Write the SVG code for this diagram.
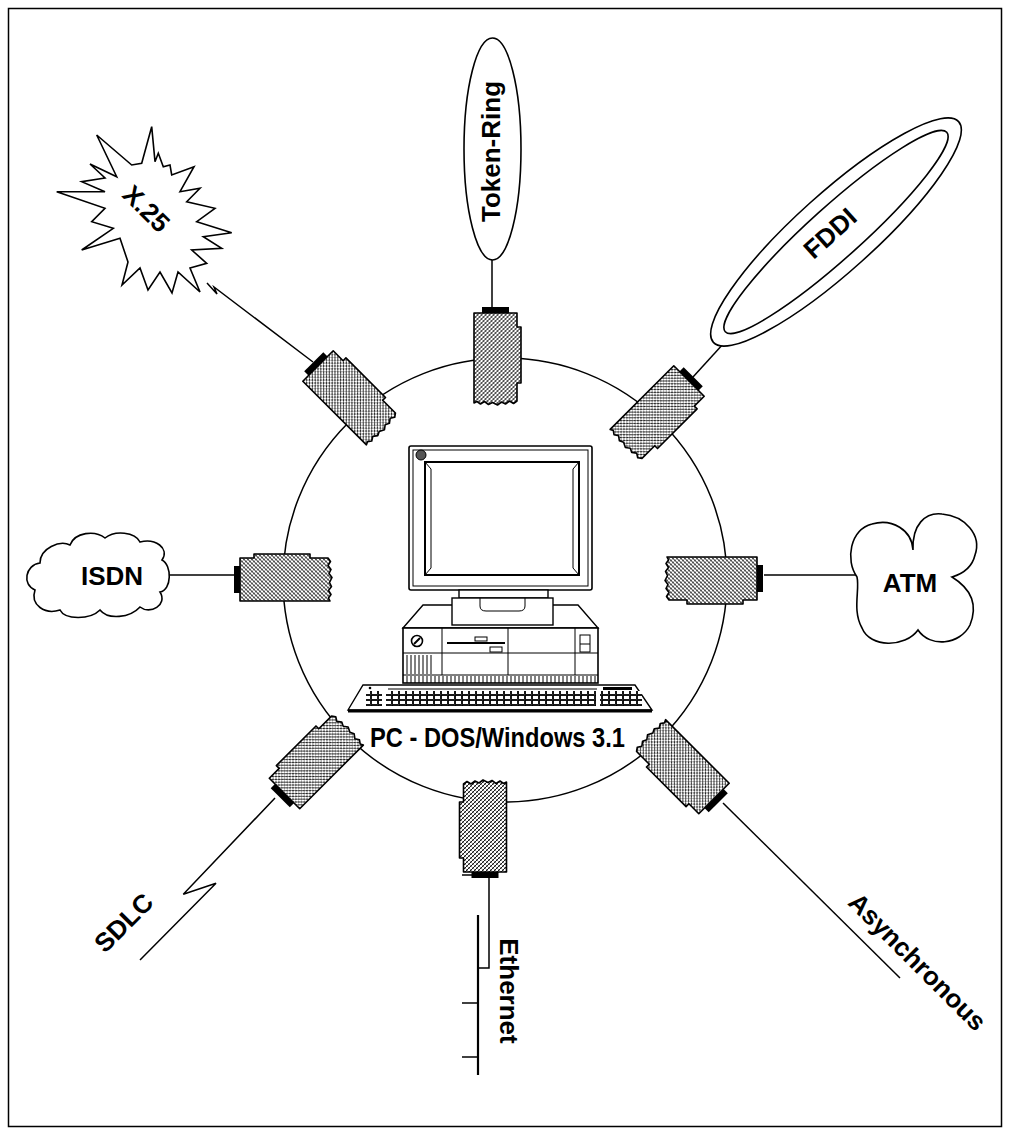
<svg xmlns="http://www.w3.org/2000/svg" width="1010" height="1135" viewBox="0 0 1010 1135">
  <style>
    .ln { fill: none; stroke: #000; stroke-width: 1.5; }
    .thin { fill: none; stroke: #000; stroke-width: 1; }
    .lbl { font-family: "Liberation Sans", Arial, sans-serif; font-weight: bold; font-size: 26px; fill: #000; }
    .shape { fill: #fff; stroke: #000; stroke-width: 1.6; }
  </style>
  <defs>
    <!-- cross-hatched fill for the adapter cards -->
    <pattern id="hatch" width="4" height="4" patternUnits="userSpaceOnUse">
      <rect width="4" height="4" fill="#fff"/>
      <path d="M-1,1 L1,-1 M0,4 L4,0 M3,5 L5,3" stroke="#000" stroke-width="0.9"/>
      <path d="M0,0 L4,4" stroke="#000" stroke-width="0.45"/>
    </pattern>
    <pattern id="keys" width="7" height="5" patternUnits="userSpaceOnUse">
      <rect width="7" height="5" fill="#fff"/>
      <rect x="0.5" y="0.5" width="6" height="4" fill="none" stroke="#000" stroke-width="0.9"/>
    </pattern>
    <!-- adapter card: origin at centre of the connector end, card runs along +y -->
    <g id="card">
      <rect x="-13.5" y="-6" width="27" height="6" fill="#000"/>
      <path d="M-21.5,0 H21.5 V14 H25.5 V70 H21.5 V88 L18,90.5 L14,88 L10,91 L6,89 L2,92 L-3,89.5 L-7,91.5 L-11,88.5 L-15,91 L-18.5,88.5 L-21.5,90 Z" fill="url(#hatch)" stroke="#000" stroke-width="1.6" stroke-linejoin="round"/>
    </g>
  </defs>

  <rect x="8.5" y="8.5" width="993" height="1118" fill="#fff" stroke="#000" stroke-width="1.5"/>

  <!-- ring joining the adapters -->
  <g id="ring">
    <circle cx="505" cy="580" r="222" class="ln"/>
  </g>

  <!-- connectors from adapters to networks -->
  <g id="connectors">
    <line x1="492" y1="260" x2="492" y2="307" class="ln"/>
    <line x1="168" y1="575" x2="236" y2="575" class="ln"/>
    <line x1="764" y1="575" x2="857" y2="575" class="ln"/>
    <polyline points="313,362 214,287 217,294 207,283" class="ln"/>
    <line x1="693" y1="377" x2="724" y2="343" class="ln"/>
    <polyline points="275,798 183.3,894.3 216,883.3 140,960" class="ln"/>
    <line x1="723" y1="803" x2="900" y2="978" class="ln"/>
    <polyline points="489,877 489,968 478,968" class="ln"/>
    <line x1="462" y1="875" x2="474" y2="875" class="ln"/>
    <line x1="478" y1="915" x2="478" y2="1075" fill="none" stroke="#000" stroke-width="2.2"/>
    <line x1="462" y1="1003" x2="478" y2="1003" class="ln"/>
    <line x1="462" y1="1057" x2="478" y2="1057" class="ln"/>
  </g>

  <!-- adapter cards around the ring -->
  <g id="adapter-token-ring"><use href="#card" transform="translate(495.5,313)"/></g>
  <g id="adapter-fddi"><use href="#card" transform="translate(689,381) rotate(45)"/></g>
  <g id="adapter-atm"><use href="#card" transform="translate(757,578.5) rotate(90)"/></g>
  <g id="adapter-async"><use href="#card" transform="translate(714,798.5) rotate(135)"/></g>
  <g id="adapter-ethernet"><use href="#card" transform="translate(485,872) rotate(180)"/></g>
  <g id="adapter-sdlc"><use href="#card" transform="translate(284.5,793.5) rotate(225)"/></g>
  <g id="adapter-isdn"><use href="#card" transform="translate(240,579.5) rotate(270)"/></g>
  <g id="adapter-x25"><use href="#card" transform="translate(318,366) rotate(315)"/></g>

  <!-- Token-Ring -->
  <g id="token-ring">
    <ellipse cx="492.5" cy="149" rx="28.5" ry="111" class="shape"/>
    <text class="lbl" text-anchor="middle" transform="translate(500,151.5) rotate(-90)">Token-Ring</text>
  </g>

  <!-- FDDI dual ring -->
  <g id="fddi">
    <g transform="rotate(-42 836 232)">
      <ellipse cx="836" cy="232" rx="165" ry="39" class="shape"/>
      <ellipse cx="836" cy="232" rx="149" ry="26" class="shape"/>
    </g>
    <text class="lbl" text-anchor="middle" transform="translate(836,240) rotate(-42)">FDDI</text>
  </g>

  <!-- X.25 -->
  <g id="x25">
    <polygon class="shape" points="151.7,126.7 155,161.7 158.3,153.3 163.3,166.7 170,165 171.7,175 194,166.7 180,191.7 200,188.3 186.7,201.7 215,208.3 196.7,221.7 231.7,232.7 203.3,236.7 221.7,248.3 191.7,250 206.7,263.3 190,268 200,292 178,272 172,293 160,272 148,290 140,268 122,285 128,262 120,238.3 81.7,250 113.3,228.3 91.7,221.7 105,208.3 56.7,191.7 105,191.7 81.7,181.7 105,178 90,164 116.7,176.7 96.7,135 131.7,165 141.7,163.3"/>
    <text class="lbl" text-anchor="middle" transform="translate(140,215) rotate(45)">X.25</text>
  </g>

  <!-- ISDN -->
  <g id="isdn">
    <path class="shape" d="M35,590 C22,585 25,565 40,563 C40,548 60,540 70,545 C75,532 95,530 105,538 C115,530 135,532 140,542 C155,538 170,548 162,560 C172,565 172,590 160,592 C168,605 150,615 140,607 C130,618 108,620 100,610 C90,620 65,620 60,610 C45,615 30,605 35,590 Z"/>
    <text class="lbl" text-anchor="middle" x="112" y="585">ISDN</text>
  </g>

  <!-- ATM -->
  <g id="atm">
    <path class="shape" d="M857,577 C845,560 850,530 872,524 C892,518 912,530 913,550 C912,525 925,512 942,514 C965,516 982,535 975,555 C972,568 962,574 952,577 C965,585 980,600 970,625 C960,645 930,648 918,630 C905,648 870,648 862,628 C852,610 860,590 857,577 Z"/>
    <text class="lbl" text-anchor="middle" x="910" y="592">ATM</text>
  </g>

  <!-- SDLC / Ethernet / Asynchronous labels -->
  <g id="sdlc">
    <text class="lbl" text-anchor="middle" transform="translate(130,929) rotate(-45)">SDLC</text>
  </g>
  <g id="ethernet">
    <text class="lbl" text-anchor="middle" transform="translate(500,991) rotate(90)">Ethernet</text>
  </g>
  <g id="async">
    <text class="lbl" text-anchor="middle" transform="translate(911,968) rotate(45)">Asynchronous</text>
  </g>

  <!-- PC workstation -->
  <g id="pc">
    <!-- monitor -->
    <rect x="409" y="446" width="183" height="144" rx="2" fill="#fff" stroke="#000" stroke-width="1.6"/>
    <rect x="413" y="450" width="175" height="136" class="thin"/>
    <rect x="425" y="462" width="154" height="113" fill="#fff" stroke="#000" stroke-width="2"/>
    <line x1="431" y1="469" x2="431" y2="568" class="thin"/>
    <line x1="573" y1="469" x2="573" y2="568" class="thin"/>
    <line x1="425" y1="462" x2="431" y2="469" class="thin"/>
    <line x1="425" y1="575" x2="431" y2="568" class="thin"/>
    <line x1="579" y1="462" x2="573" y2="469" class="thin"/>
    <line x1="579" y1="575" x2="573" y2="568" class="thin"/>
    <circle cx="421" cy="455" r="5" fill="#555" stroke="#000" stroke-width="1"/>
    <!-- stand -->
    <rect x="459" y="590" width="89" height="8" fill="#fff" stroke="#000" stroke-width="1.4"/>
    <!-- system unit -->
    <polygon points="403,628 423,605 578,605 598,628" fill="#fff" stroke="#000" stroke-width="1.4"/>
    <rect x="452" y="598" width="101" height="27" fill="#fff" stroke="#000" stroke-width="1.4"/>
    <path d="M480,598 V606 Q480,611 486,611 H519 Q525,611 525,606 V598" class="thin"/>
    <rect x="403" y="628" width="195" height="55" fill="#fff" stroke="#000" stroke-width="1.6"/>
    <line x1="403" y1="653" x2="598" y2="653" class="thin"/>
    <line x1="403" y1="675" x2="598" y2="675" class="thin"/>
    <line x1="442" y1="628" x2="442" y2="675" class="thin"/>
    <line x1="508" y1="628" x2="508" y2="675" class="thin"/>
    <line x1="575" y1="628" x2="575" y2="675" class="thin"/>
    <circle cx="417" cy="641" r="5.5" fill="#fff" stroke="#000" stroke-width="1.6"/>
    <line x1="414" y1="644" x2="420" y2="638" stroke="#000" stroke-width="2"/>
    <line x1="447" y1="643" x2="505" y2="643" stroke="#000" stroke-width="2"/>
    <rect x="475" y="637" width="12" height="4" class="thin"/>
    <rect x="490" y="647" width="12" height="5" class="thin"/>
    <rect x="580" y="635" width="10" height="17" class="thin"/>
    <line x1="580" y1="644" x2="590" y2="644" class="thin"/>
    <path d="M407,655 V674 M411,655 V674 M415,655 V674 M419,655 V674 M423,655 V674 M427,655 V674 M431,655 V674" class="thin"/>
    <path d="M407,676 V683 M411,676 V683 M415,676 V683 M419,676 V683 M423,676 V683 M427,676 V683 M431,676 V683 M435,676 V683 M439,676 V683 M443,676 V683 M447,676 V683 M451,676 V683 M455,676 V683 M459,676 V683 M463,676 V683 M467,676 V683 M471,676 V683 M475,676 V683 M479,676 V683 M483,676 V683 M487,676 V683 M491,676 V683 M495,676 V683 M499,676 V683 M503,676 V683 M507,676 V683 M511,676 V683 M515,676 V683 M519,676 V683 M523,676 V683 M527,676 V683 M531,676 V683 M535,676 V683 M539,676 V683 M543,676 V683 M547,676 V683 M551,676 V683 M555,676 V683 M559,676 V683 M563,676 V683 M567,676 V683 M571,676 V683 M575,676 V683 M579,676 V683 M583,676 V683 M587,676 V683 M591,676 V683 M595,676 V683" class="thin"/>
    <!-- keyboard -->
    <polygon points="348,710 363,685 635,685 652,710" fill="#fff" stroke="#000" stroke-width="1.4"/>
    <line x1="348" y1="711" x2="652" y2="711" stroke="#000" stroke-width="3"/>
    <line x1="388" y1="689" x2="597" y2="689" class="thin"/>
    <rect x="603" y="687" width="29" height="3" fill="#000"/>
    <circle cx="370" cy="688" r="1.3" fill="#000"/>
    <rect x="366" y="691" width="16" height="15" fill="url(#keys)"/>
    <rect x="386" y="691" width="210" height="15" fill="url(#keys)"/>
    <rect x="600" y="691" width="42" height="15" fill="url(#keys)"/>
    <text class="lbl" x="370" y="747" style="font-size:28px" textLength="255" lengthAdjust="spacingAndGlyphs">PC - DOS/Windows 3.1</text>
  </g>
</svg>
